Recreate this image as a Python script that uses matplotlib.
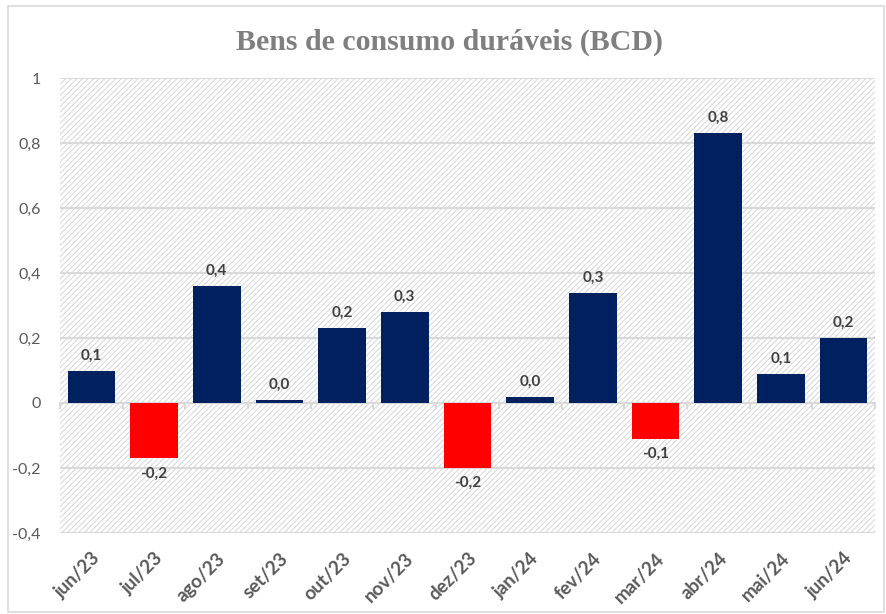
import numpy as np
import matplotlib
matplotlib.use('Agg')
import matplotlib.pyplot as plt
from matplotlib.patches import Rectangle

# Data
months = ['jun/23', 'jul/23', 'ago/23', 'set/23', 'out/23', 'nov/23', 'dez/23',
          'jan/24', 'fev/24', 'mar/24', 'abr/24', 'mai/24', 'jun/24']
values = [0.10, -0.17, 0.36, 0.01, 0.23, 0.28, -0.20, 0.02, 0.34, -0.11, 0.83, 0.09, 0.20]
yticks = [-0.4, -0.2, 0, 0.2, 0.4, 0.6, 0.8, 1]

navy = '#002060'
red = '#ff0000'
grid_col = '#d9d9d9'

plt.rcParams['font.family'] = ['Lato', 'DejaVu Sans']
plt.rcParams['hatch.linewidth'] = 0.7
plt.rcParams['hatch.color'] = '#d6d6d6'

fig = plt.figure(figsize=(8.86, 6.14), dpi=100)
ax = fig.add_axes([60 / 886, 1 - 533 / 614, 815 / 886, 455 / 614])

x = np.arange(len(months))
colors = [navy if v >= 0 else red for v in values]

ax.set_xlim(-0.5, len(months) - 0.5)
ax.set_ylim(-0.4, 1.0)

# hatched background
bg = Rectangle((0, 0), 1, 1, transform=ax.transAxes, facecolor='white',
               edgecolor='#d6d6d6', hatch='//////', linewidth=0, zorder=0)
ax.add_patch(bg)

for yv in yticks:
    if yv != 0:
        ax.axhline(yv, color=grid_col, linewidth=1.5, zorder=1)

ax.bar(x, values, width=0.76, color=colors, zorder=3)
ax.axhline(0, color=grid_col, linewidth=1.5, zorder=2)
for b in np.arange(len(months) + 1) - 0.5:
    ax.plot([b, b], [0, -0.015], color=grid_col, linewidth=1.5, zorder=2, clip_on=False)

for xi, v in zip(x, values):
    lbl = f'{v:.1f}'.replace('.', ',')
    if v >= 0:
        ax.text(xi, v + 0.025, lbl, ha='center', va='bottom', fontsize=11,
                fontweight='bold', color='#404040')
    else:
        ax.text(xi, v - 0.025, lbl, ha='center', va='top', fontsize=11,
                fontweight='bold', color='#404040')

ax.set_yticks(yticks)
ax.set_yticklabels([('%g' % t).replace('.', ',') for t in yticks], fontsize=11.5, color='#595959')
ax.set_xticks(x)
ax.set_xticklabels(months, rotation=45, ha='right', rotation_mode='anchor',
                   fontsize=13.5, fontweight='bold', color='#595959')
ax.tick_params(axis='both', length=0)
ax.tick_params(axis='y', pad=14)
ax.tick_params(axis='x', pad=12)
for s in ax.spines.values():
    s.set_visible(False)

fig.text(0.507, 1 - 42 / 614, 'Bens de consumo duráveis (BCD)', ha='center', va='center',
         fontsize=21.5, fontweight='bold', color='#7f7f7f', family='Liberation Serif')

# chart border
fig.patches.append(Rectangle((8 / 886, 2 / 614), 876 / 886, 606 / 614, transform=fig.transFigure,
                             fill=False, edgecolor=grid_col, linewidth=1.2))

fig.savefig('out.png', dpi=100)
